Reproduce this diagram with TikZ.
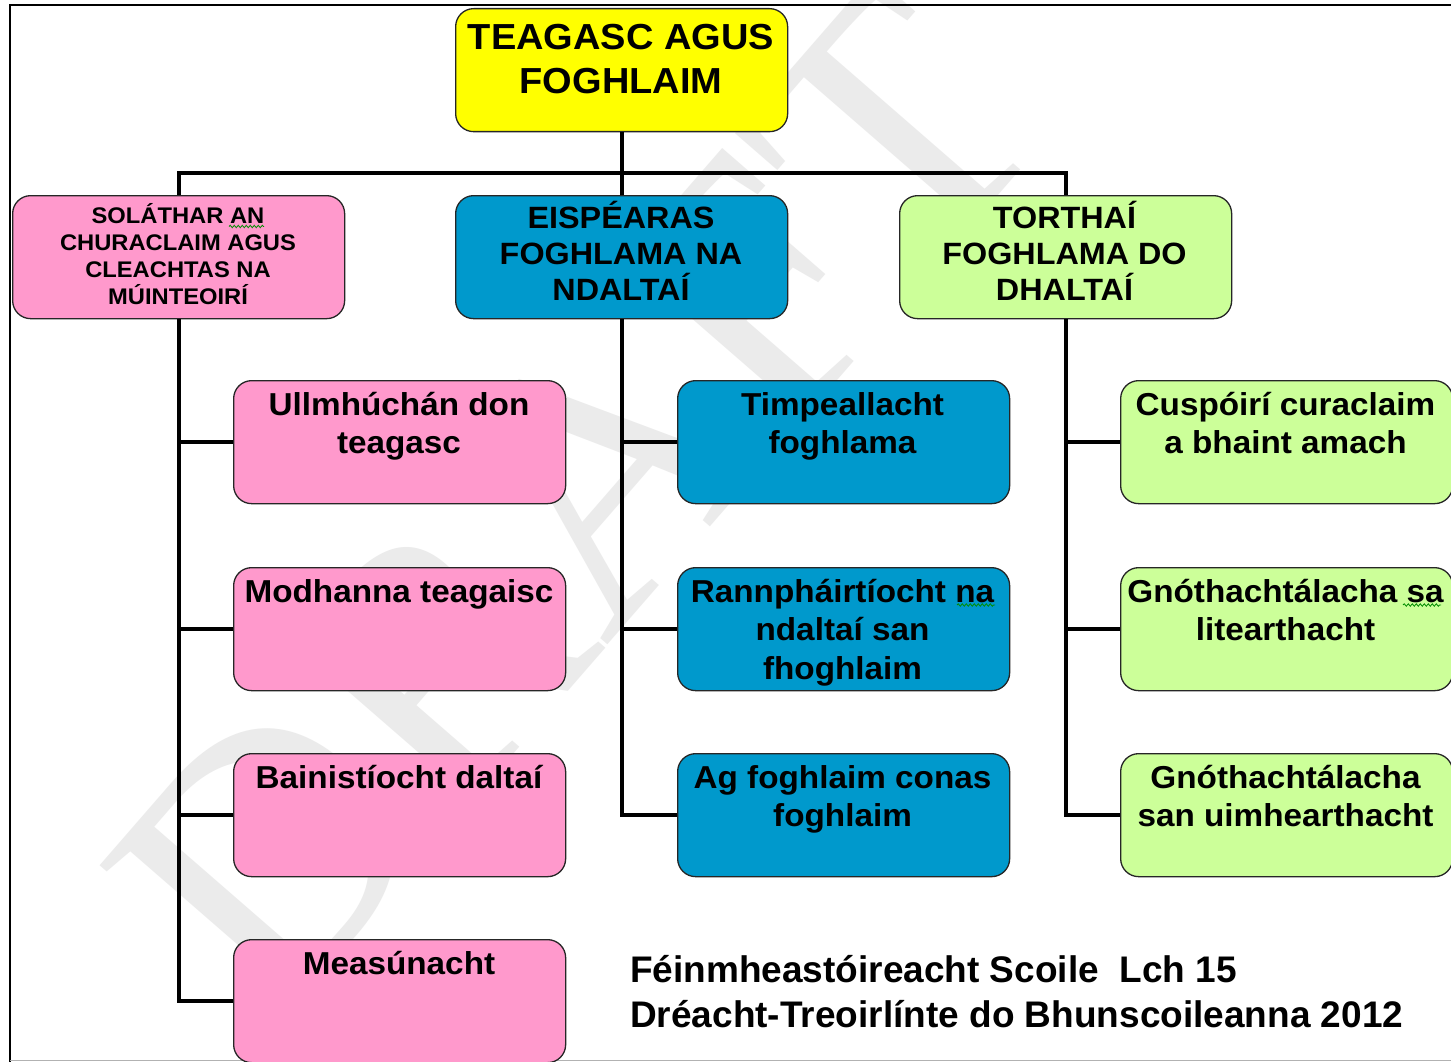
\documentclass[tikz,border=0pt]{standalone}
\usepackage{fontspec}
\setmainfont{Liberation Sans}
\newfontfamily\widesans[FakeStretch=1.05]{Liberation Sans}
\newfontfamily\wmserif{Liberation Serif}
\usetikzlibrary{decorations.pathmorphing}
\definecolor{cyel}{HTML}{FFFF00}
\definecolor{cpink}{HTML}{FF99CC}
\definecolor{cblue}{HTML}{0099CC}
\definecolor{cgreen}{HTML}{CCFF99}
\newcommand\fl{\rule{0pt}{1em}}
\begin{document}
\begin{tikzpicture}[x=1pt,y=-1pt,
  box/.style={draw=black!85, line width=1.3pt, rounded corners=18pt,
    minimum width=332pt, minimum height=123pt, inner sep=0pt, anchor=north west},
  txt/.style={inner sep=0pt, align=center, anchor=north},
  fa/.style={font=\widesans\bfseries\fontsize{36.2}{44}\selectfont},
  fb/.style={font=\widesans\bfseries\fontsize{30.8}{36}\selectfont},
  fc/.style={font=\widesans\bfseries\fontsize{22.6}{27}\selectfont},
  fd/.style={font=\widesans\bfseries\fontsize{31.7}{38.5}\selectfont},
  conn/.style={line width=4pt, black},
  squig/.style={draw=green!55!black, line width=0.8pt, decorate,
    decoration={snake, amplitude=1.2pt, segment length=4pt}}]
\useasboundingbox (0,0) rectangle (1451,1062);
\fill[white] (0,0) rectangle (1451,1062);
% watermark
\node[rotate=49, text=black!8, inner sep=0pt,
  font=\wmserif\fontsize{365}{365}\selectfont] (wm) at (575,500) {DRAFT};
% frame
\draw[line width=2.5pt, black] (10,1062) -- (10,5) -- (1451,5);
\draw[line width=1.5pt, black!30] (10,1060.5) -- (1451,1060.5);
% boxes
\node[box, fill=cyel]   (root) at (455,8) {};
\node[box, fill=cpink]  (l1p) at (12,195) {};
\node[box, fill=cblue]  (l1b) at (455,195) {};
\node[box, fill=cgreen] (l1g) at (899,195) {};
\node[box, fill=cpink] (p1) at (233,380) {};
\node[box, fill=cpink] (p2) at (233,567) {};
\node[box, fill=cpink] (p3) at (233,753) {};
\node[box, fill=cpink] (p4) at (233,939) {};
\node[box, fill=cblue] (b1) at (677,380) {};
\node[box, fill=cblue] (b2) at (677,567) {};
\node[box, fill=cblue] (b3) at (677,753) {};
\node[box, fill=cgreen] (g1) at (1120,380) {};
\node[box, fill=cgreen] (g2) at (1120,567) {};
\node[box, fill=cgreen] (g3) at (1120,753) {};
% connectors
\coordinate (bus) at (621,172.7);
\draw[conn] (root.south) -- (l1b.north);
\draw[conn] (l1p.north) |- (bus) -| (l1g.north);
\foreach \c in {p1,p2,p3,p4} \draw[conn] (l1p.south) |- (\c.west);
\foreach \c in {b1,b2,b3} \draw[conn] (l1b.south) |- (\c.west);
\foreach \c in {g1,g2,g3} \draw[conn] (l1g.south) |- (\c.west);
% texts (north = first baseline - font size)
\node[txt, fa] (troot) at (621,13.5) {\fl TEAGASC AGUS\\FOGHLAIM};
\node[txt, fc] (tl1p) at (178,200.5) {\fl SOLÁTHAR AN\\CHURACLAIM AGUS\\CLEACHTAS NA\\MÚINTEOIRÍ};
\node[txt, fb] (tl1b) at (621,197.5) {\fl EISPÉARAS\\FOGHLAMA NA\\NDALTAÍ};
\node[txt, fb] (tl1g) at (1064.5,197.5) {\fl TORTHAÍ\\FOGHLAMA DO\\DHALTAÍ};
\node[txt, fd] (tp1) at (399,383.5) {\fl Ullmhúchán don\\teagasc};
\node[txt, fd] (tp2) at (399,570.5) {\fl Modhanna teagaisc};
\node[txt, fd] (tp3) at (399,756.5) {\fl Bainistíocht daltaí};
\node[txt, fd] (tp4) at (399,942.5) {\fl Measúnacht};
\node[txt, fd] (tb1) at (842.5,383.5) {\fl Timpeallacht\\foghlama};
\node[txt, fd] (tb2) at (842.5,570.5) {\fl Rannpháirtíocht na\\ndaltaí san\\fhoghlaim};
\node[txt, fd] (tb3) at (842.5,756.5) {\fl Ag foghlaim conas\\foghlaim};
\node[txt, fd] (tg1) at (1285.5,383.5) {\fl Cuspóirí curaclaim\\a bhaint amach};
\node[txt, fd] (tg2) at (1285.5,570.5) {\fl Gnóthachtálacha sa\\litearthacht};
\node[txt, fd] (tg3) at (1285.5,756.5) {\fl Gnóthachtálacha\\san uimhearthacht};
\node[inner sep=0pt, align=left, anchor=north west,
  font=\bfseries\fontsize{37}{45}\selectfont] (foot) at (630,945)
  {\fl Féinmheastóireacht Scoile\ \ Lch 15\\Dréacht-Treoirlínte do Bhunscoileanna 2012};
% spell-check marks
\draw[squig] (229,226.5) -- (264,226.5);
\draw[squig] (957,605) -- (995,605);
\draw[squig] (1403,605) -- (1441,605);
\end{tikzpicture}
\end{document}
